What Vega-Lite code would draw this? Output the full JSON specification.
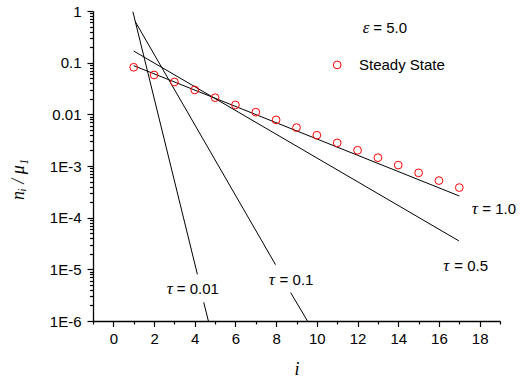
{
  "$schema": "https://vega.github.io/schema/vega-lite/v6.json",
  "width": 407,
  "height": 310,
  "autosize": {"type": "none"},
  "padding": {"left": 93, "top": 11, "right": 28, "bottom": 61},
  "background": "white",
  "view": {"stroke": null},
  "config": {
    "font": "Liberation Sans",
    "axis": {"grid": false, "domainColor": "black", "domainWidth": 1.3, "tickColor": "black", "tickWidth": 1.2, "labelColor": "black", "labelFont": "Liberation Sans", "labelFontSize": 15, "labelOverlap": false, "labelFlush": false, "labelBound": false, "titleColor": "black", "titleFont": "Liberation Serif", "titleFontStyle": "italic", "titleFontWeight": "normal", "titleFontSize": 18}
  },
  "datasets": {
    "steady": [
      {"i": 1, "n": 0.0815}, {"i": 2, "n": 0.0578}, {"i": 3, "n": 0.0423}, {"i": 4, "n": 0.0296},
      {"i": 5, "n": 0.021}, {"i": 6, "n": 0.0152}, {"i": 7, "n": 0.011}, {"i": 8, "n": 0.0078},
      {"i": 9, "n": 0.00553}, {"i": 10, "n": 0.00394}, {"i": 11, "n": 0.0028}, {"i": 12, "n": 0.00202},
      {"i": 13, "n": 0.00145}, {"i": 14, "n": 0.00104}, {"i": 15, "n": 0.000736}, {"i": 16, "n": 0.000522},
      {"i": 17, "n": 0.000382}
    ],
    "lines": [
      {"seg": "t001a", "i": 0.96, "n": 0.97}, {"seg": "t001a", "i": 4.13, "n": 0.000008},
      {"seg": "t001b", "i": 4.44, "n": 0.0000023}, {"seg": "t001b", "i": 4.67, "n": 0.000001},
      {"seg": "t01a", "i": 1.08, "n": 0.62}, {"seg": "t01a", "i": 7.97, "n": 0.0000123},
      {"seg": "t01b", "i": 8.71, "n": 0.00000355}, {"seg": "t01b", "i": 9.54, "n": 0.000001},
      {"seg": "t05", "i": 1.0, "n": 0.168}, {"seg": "t05", "i": 16.98, "n": 0.0000355},
      {"seg": "t10", "i": 1.0, "n": 0.0875}, {"seg": "t10", "i": 17.0, "n": 0.000263}
    ],
    "labels": [
      {"sym": "τ", "symx": 2.62, "text": "= 0.01", "textx": 3.12, "y": 0.0000042},
      {"sym": "τ", "symx": 7.64, "text": "= 0.1", "textx": 8.17, "y": 0.00000618},
      {"sym": "τ", "symx": 16.21, "text": "= 0.5", "textx": 16.75, "y": 0.0000117},
      {"sym": "τ", "symx": 17.61, "text": "= 1.0", "textx": 18.13, "y": 0.000148},
      {"sym": "ε", "symx": 12.26, "text": "= 5.0", "textx": 12.77, "y": 0.469}
    ],
    "legend": [
      {"x": 11.0, "y": 0.0903, "tx": 12.07, "label": "Steady State"}
    ]
  },
  "resolve": {"axis": {"x": "independent", "y": "independent"}},
  "layer": [
    {
      "data": {"name": "lines"},
      "mark": {"type": "line", "color": "black", "strokeWidth": 1},
      "encoding": {
        "x": {"field": "i", "type": "quantitative",
          "scale": {"domain": [-1, 19], "nice": false, "zero": false},
          "axis": {
            "orient": "bottom",
            "title": "i", "titlePadding": 14,
            "values": [0,2,4,6,8,10,12,14,16,18],
            "tickSize": 5.5,
            "labelPadding": 5
          }},
        "y": {"field": "n", "type": "quantitative",
          "scale": {"type": "log", "domain": [0.000001, 1], "nice": false},
          "axis": {
            "orient": "left",
            "title": "nᵢ / μ₁",
            "values": [0.000001, 0.00001, 0.0001, 0.001, 0.01, 0.1, 1],
            "labelExpr": "datum.value >= 0.01 ? format(datum.value, '') : '1E' + round(log(datum.value)/LN10)",
            "tickSize": 6,
            "labelPadding": 6,
            "titleAngle": -90,
            "titleX": -75,
            "titleY": 168,
            "titleAlign": "center",
            "titleBaseline": "middle"
          }},
        "detail": {"field": "seg"}
      }
    },
    {
      "data": {"name": "steady"},
      "mark": {"type": "point", "shape": "circle", "filled": false, "color": "#ff0000", "opacity": 1, "size": 60, "strokeWidth": 1},
      "encoding": {
        "x": {"field": "i", "type": "quantitative",
          "axis": {"orient": "bottom", "title": null, "labels": false, "domain": false, "tickSize": 3,
                   "values": [-1,1,3,5,7,9,11,13,15,17,19]}},
        "y": {"field": "n", "type": "quantitative",
          "axis": {"orient": "left", "title": null, "labels": false, "domain": false, "tickSize": 3.5,
                   "values": [0.000002,0.000003,0.000004,0.000005,0.000006,0.000007,0.000008,0.000009,
                       0.00002,0.00003,0.00004,0.00005,0.00006,0.00007,0.00008,0.00009,
                       0.0002,0.0003,0.0004,0.0005,0.0006,0.0007,0.0008,0.0009,
                       0.002,0.003,0.004,0.005,0.006,0.007,0.008,0.009,
                       0.02,0.03,0.04,0.05,0.06,0.07,0.08,0.09,
                       0.2,0.3,0.4,0.5,0.6,0.7,0.8,0.9]}}
      }
    },
    {
      "data": {"name": "legend"},
      "mark": {"type": "point", "shape": "circle", "filled": false, "color": "#ff0000", "opacity": 1, "size": 60, "strokeWidth": 1},
      "encoding": {
        "x": {"field": "x", "type": "quantitative", "axis": null},
        "y": {"field": "y", "type": "quantitative", "axis": null}
      }
    },
    {
      "data": {"name": "legend"},
      "mark": {"type": "text", "align": "left", "baseline": "middle", "fontSize": 15, "font": "Liberation Sans", "color": "black"},
      "encoding": {
        "x": {"field": "tx", "type": "quantitative", "axis": null},
        "y": {"field": "y", "type": "quantitative", "axis": null},
        "text": {"field": "label"}
      }
    },
    {
      "data": {"name": "labels"},
      "mark": {"type": "text", "align": "left", "baseline": "middle", "fontSize": 17, "font": "Liberation Serif", "fontStyle": "italic", "color": "black"},
      "encoding": {
        "x": {"field": "symx", "type": "quantitative", "axis": null},
        "y": {"field": "y", "type": "quantitative", "axis": null},
        "text": {"field": "sym"}
      }
    },
    {
      "data": {"name": "labels"},
      "mark": {"type": "text", "align": "left", "baseline": "middle", "fontSize": 15, "font": "Liberation Sans", "color": "black"},
      "encoding": {
        "x": {"field": "textx", "type": "quantitative", "axis": null},
        "y": {"field": "y", "type": "quantitative", "axis": null},
        "text": {"field": "text"}
      }
    }
  ]
}
